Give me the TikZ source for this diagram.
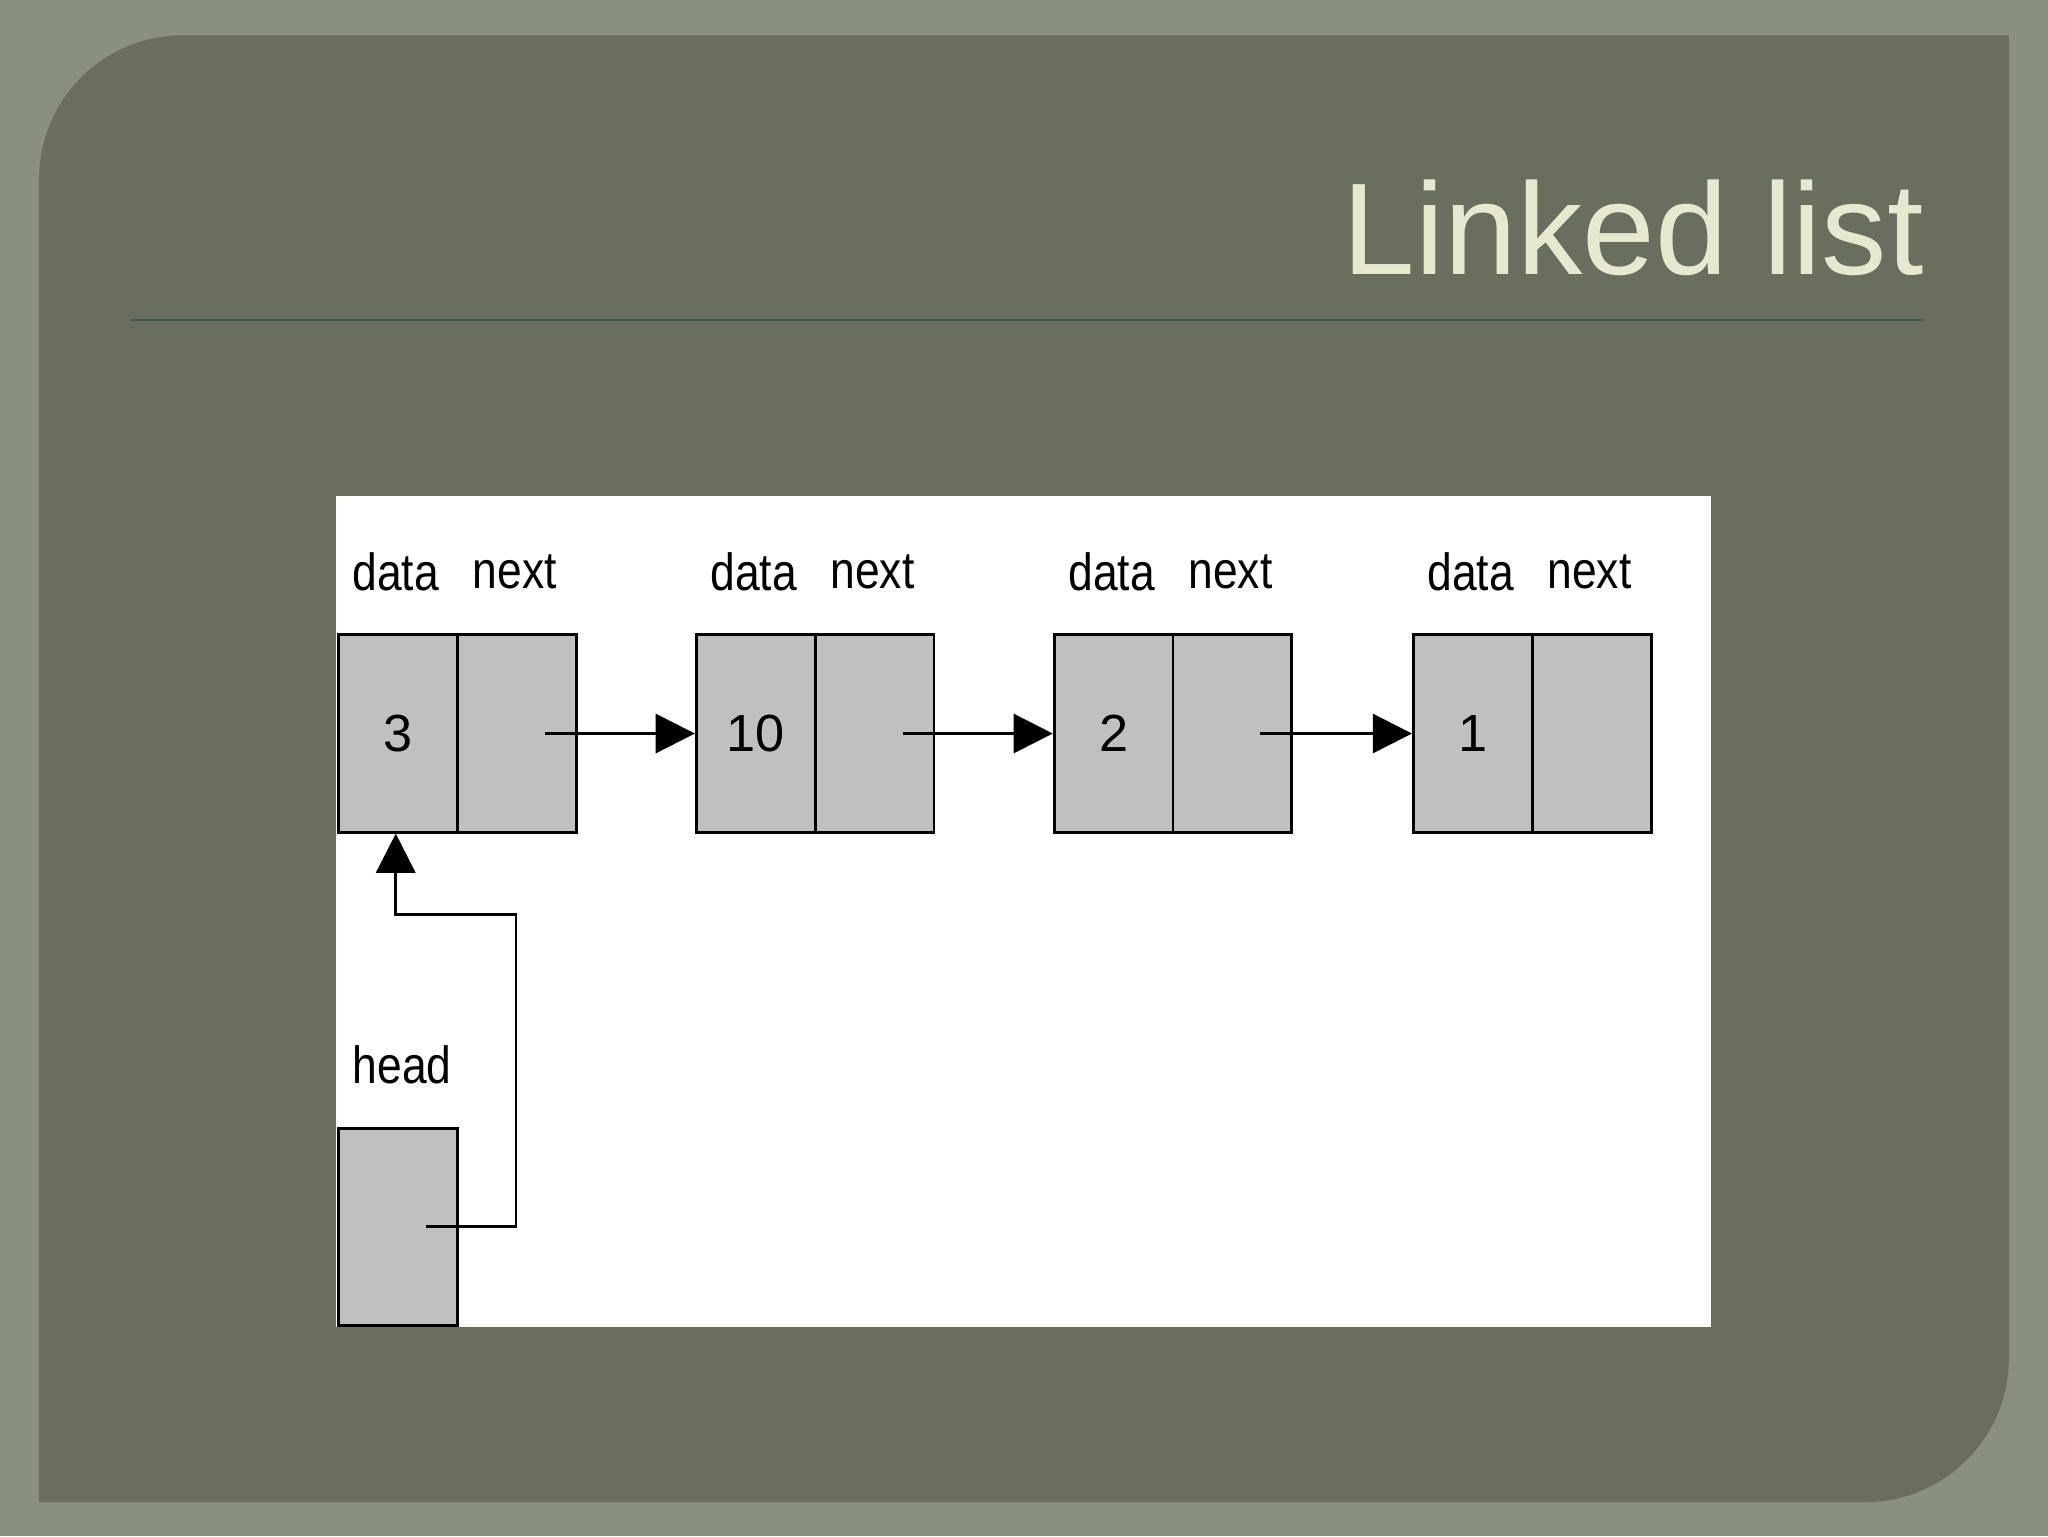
\documentclass[tikz,border=0pt]{standalone}
\usepackage{fontspec}
\setmainfont{Liberation Sans}
\usetikzlibrary{arrows.meta}
\definecolor{bgout}{HTML}{8A9080}
\definecolor{panel}{HTML}{696E5E}
\definecolor{titlec}{HTML}{E6E8CF}
\definecolor{rulec}{HTML}{3F5A46}
\definecolor{cellc}{HTML}{C0C0C0}
\tikzset{
 cell/.style={draw=black,line width=2.2pt,fill=cellc,minimum width=91pt,minimum height=151pt,inner sep=0pt,font=\fontsize{40}{40}\selectfont},
 lbl/.style={font=\fontsize{40}{40}\selectfont,inner sep=0pt,xscale=0.85},
 ptr/.style={line width=2pt,-{Triangle[length=30pt,width=30pt]}}
}
\begin{document}
\begin{tikzpicture}[x=1pt,y=-1pt]
\useasboundingbox (0,0) rectangle (1568,1176);
\fill[bgout] (0,0) rectangle (1568,1176);
\fill[panel] (30,137) arc[start angle=180,end angle=90,x radius=110,y radius=-110] -- (1538,27) -- (1538,1040) arc[start angle=0,end angle=-90,x radius=110,y radius=-110] -- (30,1150) -- cycle;
\node[anchor=base east,text=titlec,font=\fontsize{100}{100}\selectfont,inner sep=0pt] (title) at (1473,210) {Linked list};
\draw[rulec,line width=2pt] (100,245) -- (1473,245);
\fill[white] (257,380) rectangle (1310,1016);
\foreach \i/\x/\v in {1/258/3,2/532/10,3/806/2,4/1081/1}{
  \node[cell,anchor=north west] (d\i) at (\x,485) {\v};
  \node[cell,anchor=north west] (n\i) at (\x+91,485) {};
  \node[lbl] (ld\i) at (\x+45,438) {data};
  \node[lbl] (ln\i) at (\x+136,438) {next};
}
\foreach \a/\b in {1/2,2/3,3/4}{
  \coordinate (s\a) at ([xshift=68pt]n\a.west);
  \draw[ptr] (s\a) -- (d\b.west);
}
\node[cell,anchor=north west] (h) at (258,863) {};
\node[lbl] (hl) at (308,815) {head};
\coordinate (hs) at (326,939);
\draw[ptr] (hs) -- (395,939) -- (395,700) -- (303,700) -- (d1.south -| 303,0);
\end{tikzpicture}
\end{document}
